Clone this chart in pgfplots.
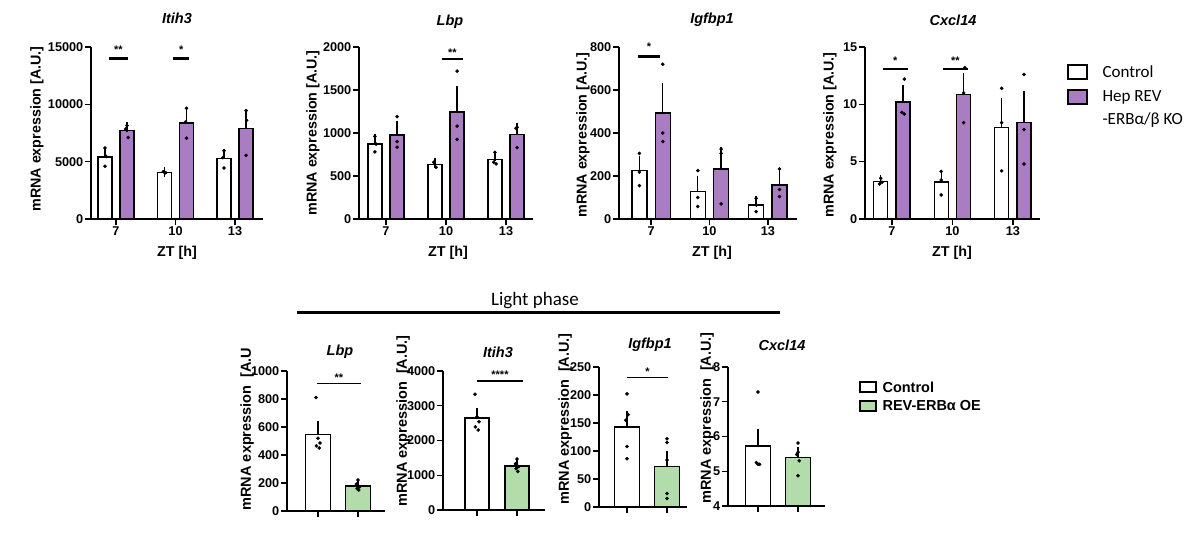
\documentclass[border=0pt]{standalone}
\usepackage{pgfplots}
\pgfplotsset{compat=1.18}
\usepackage{fontspec}
\setmainfont{Liberation Sans}
\newfontfamily\calfont{Carlito}
\definecolor{kopurple}{RGB}{170,125,195}
\definecolor{oegreen}{RGB}{178,220,170}
\pgfplotsset{
  gp/.style={scale only axis, axis x line*=bottom, axis y line*=left,
    axis line style={line width=1.6pt,-}, tick style={line width=1.4pt, black},
    major tick length=6pt, tick align=outside,
    tick label style={font=\fontsize{12.7}{14}\bfseries\selectfont, inner sep=1.5pt},
    /pgf/number format/assume math mode=true, /pgf/number format/1000 sep={},
    scaled y ticks=false, clip=false, anchor=south west},
  gpbar/.style={ybar, bar shift=0pt, draw=black, line width=1.4pt,
    error bars/y dir=plus, error bars/y explicit,
    error bars/error bar style={line width=1.4pt, black},
    error bars/error mark options={line width=1.4pt, mark size=5pt, black}},
  pts/.style={only marks, mark=*, mark size=1.6pt, black, mark options={fill=black}},
}
\newcommand{\labf}{\fontsize{14.3}{16}\bfseries\selectfont}
\newcommand{\titf}{\fontsize{14.5}{16}\bfseries\itshape\selectfont}
\newcommand{\astf}{\fontsize{11}{12}\bfseries\selectfont}
\begin{document}
\begin{tikzpicture}[x=1pt,y=1pt]
\fill[white] (0,0) rectangle (1200,545);
\path[use as bounding box] (0,0) rectangle (1200,545);

% ---------- Top panel 1: Itih3
\begin{axis}[gp, at={(91pt,326pt)}, width=172pt, height=172pt,
  xmin=-0.42, xmax=2.47, ymin=0, ymax=15000, ytick={0,5000,10000,15000},
  xtick={0,1,2}, xticklabels={7,10,13}]
\addplot[gpbar, bar width=14pt, fill=white] table[x=x,y=m,y error=e]{
x m e
-0.185 5417 450
0.815 4080 40
1.815 5250 450
};
\addplot[gpbar, bar width=14pt, fill=kopurple] table[x=x,y=m,y error=e]{
x m e
0.185 7700 330
1.185 8383 780
2.185 7867 1230
};
\addplot[pts] table{
-0.185 6200
-0.165 5450
-0.185 4600
0.185 8150
0.165 7850
0.205 7100
0.795 4130
0.815 4080
0.835 4030
1.185 9650
1.165 8450
1.185 7050
1.815 5950
1.795 5350
1.815 4450
2.185 9450
2.195 8600
2.185 5550
};
\draw[line width=2.5pt] (axis cs:-0.12,13980) -- (axis cs:0.2,13980);
\node[font=\astf] at (axis cs:0.04,14800) {**};
\draw[line width=2.5pt] (axis cs:0.96,13980) -- (axis cs:1.23,13980);
\node[font=\astf] at (axis cs:1.095,14800) {*};
\end{axis}

% ---------- Top panel 2: Lbp
\begin{axis}[gp, at={(359pt,326pt)}, width=174pt, height=172pt,
  xmin=-0.45, xmax=2.45, ymin=0, ymax=2000, ytick={0,500,1000,1500,2000},
  xtick={0,1,2}, xticklabels={7,10,13}]
\addplot[gpbar, bar width=14pt, fill=white] table[x=x,y=m,y error=e]{
x m e
-0.185 870 60
0.815 632 18
1.815 692 45
};
\addplot[gpbar, bar width=14pt, fill=kopurple] table[x=x,y=m,y error=e]{
x m e
0.185 975 110
1.185 1242 245
2.185 983 80
};
\addplot[pts] table{
-0.185 960
-0.165 870
-0.185 780
0.185 1190
0.185 900
0.185 835
0.795 660
0.815 635
0.835 600
1.185 1720
1.185 1080
1.185 925
1.815 775
1.795 660
1.835 640
2.185 1065
2.165 1055
2.185 830
};
\draw[line width=2pt] (axis cs:0.93,1857) -- (axis cs:1.28,1857);
\node[font=\astf] at (axis cs:1.105,1930) {**};
\end{axis}

% ---------- Top panel 3: Igfbp1
\begin{axis}[gp, at={(619pt,326pt)}, width=178pt, height=172pt,
  xmin=-0.55, xmax=2.5, ymin=0, ymax=800, ytick={0,200,400,600,800},
  xtick={0,1,2}, xticklabels={7,10,13}]
\addplot[gpbar, bar width=15pt, fill=white] table[x=x,y=m,y error=e]{
x m e
-0.2 226 45
0.8 128 50
1.8 65 20
};
\addplot[gpbar, bar width=15pt, fill=kopurple] table[x=x,y=m,y error=e]{
x m e
0.2 493 115
1.2 233 80
2.2 158 40
};
\addplot[pts] table{
-0.2 305
-0.2 218
-0.2 155
0.2 720
0.2 400
0.2 360
0.8 225
0.8 100
0.8 58
1.2 325
1.2 305
1.2 70
1.8 96
1.8 65
1.8 34
2.2 233
2.2 137
2.2 105
};
\draw[line width=2.5pt] (axis cs:-0.22,756) -- (axis cs:0.15,756);
\node[font=\astf] at (axis cs:-0.035,800) {*};
\end{axis}

% ---------- Top panel 4: Cxcl14
\begin{axis}[gp, at={(865pt,326pt)}, width=175pt, height=172pt,
  xmin=-0.446, xmax=2.45, ymin=0, ymax=15, ytick={0,5,10,15},
  xtick={0,1,2}, xticklabels={7,10,13}]
\addplot[gpbar, bar width=14pt, fill=white] table[x=x,y=m,y error=e]{
x m e
-0.185 3.27 0.15
0.815 3.22 0.6
1.815 8.0 2.1
};
\addplot[gpbar, bar width=14pt, fill=kopurple] table[x=x,y=m,y error=e]{
x m e
0.185 10.2 1.05
1.185 10.87 1.4
2.185 8.4 2.3
};
\addplot[pts] table{
-0.185 3.55
-0.165 3.2
-0.205 3.05
0.205 12.2
0.165 9.3
0.205 9.15
0.815 4.15
0.815 3.4
0.815 2.1
1.205 13.2
1.185 11.0
1.185 8.4
1.815 11.4
1.815 8.4
1.815 4.2
2.185 12.6
2.185 7.8
2.185 4.8
};
\draw[line width=2.5pt] (axis cs:-0.15,13.1) -- (axis cs:0.26,13.1);
\node[font=\astf] at (axis cs:0.055,13.8) {*};
\draw[line width=2.5pt] (axis cs:0.84,13.1) -- (axis cs:1.26,13.1);
\node[font=\astf] at (axis cs:1.05,13.8) {**};
\end{axis}

% ---------- Bottom panel 1: Lbp
\begin{axis}[gp, at={(287pt,34pt)}, width=98pt, height=140pt,
  xmin=-0.775, xmax=1.675, ymin=0, ymax=1000, ytick={0,200,400,600,800,1000},
  xtick={0,1}, xticklabels={\mbox{},\mbox{}}]
\addplot[gpbar, bar width=25pt, fill=white] table[x=x,y=m,y error=e]{
x m e
0 546 60
};
\addplot[gpbar, bar width=25pt, fill=oegreen] table[x=x,y=m,y error=e]{
x m e
1 179 12
};
\addplot[pts] table{
-0.05 810
0 520
0.05 485
-0.04 465
0.03 450
1 221
0.96 192
1.04 173
0.98 160
1.02 150
};
\draw[line width=1.6pt] (axis cs:-0.02,910) -- (axis cs:1.07,910);
\node[font=\astf] at (axis cs:0.52,950) {**};
\end{axis}

% ---------- Bottom panel 2: Itih3
\begin{axis}[gp, at={(443pt,35pt)}, width=102pt, height=139pt,
  xmin=-0.85, xmax=1.7, ymin=0, ymax=4000, ytick={0,1000,2000,3000,4000},
  xtick={0,1}, xticklabels={\mbox{},\mbox{}}]
\addplot[gpbar, bar width=24pt, fill=white] table[x=x,y=m,y error=e]{
x m e
0 2648 155
};
\addplot[gpbar, bar width=24pt, fill=oegreen] table[x=x,y=m,y error=e]{
x m e
1 1270 95
};
\addplot[pts] table{
-0.05 3330
0 2680
0.05 2540
-0.04 2390
0.03 2300
1 1470
0.96 1330
1.04 1250
0.98 1190
1.02 1110
};
\draw[line width=1.6pt] (axis cs:0,3713) -- (axis cs:1.15,3713);
\node[font=\astf] at (axis cs:0.575,3880) {****};
\end{axis}

% ---------- Bottom panel 3: Igfbp1
\begin{axis}[gp, at={(599pt,38pt)}, width=88pt, height=140pt,
  xmin=-0.7, xmax=1.5, ymin=0, ymax=250, ytick={0,50,100,150,200,250},
  xtick={0,1}, xticklabels={\mbox{},\mbox{}}]
\addplot[gpbar, bar width=25pt, fill=white] table[x=x,y=m,y error=e]{
x m e
0 143 20
};
\addplot[gpbar, bar width=25pt, fill=oegreen] table[x=x,y=m,y error=e]{
x m e
1 72 19.5
};
\addplot[pts] table{
0 202
0.03 165
-0.03 155
0 108
0 86
1 122
1 115
1 84
1 24
1 15
};
\draw[line width=1.6pt] (axis cs:0,231) -- (axis cs:1.02,231);
\node[font=\astf] at (axis cs:0.51,241) {*};
\end{axis}

% ---------- Bottom panel 4: Cxcl14
\begin{axis}[gp, clip=true, at={(728pt,39pt)}, width=97pt, height=139pt,
  xmin=-0.75, xmax=1.675, ymin=4, ymax=8, ytick={4,5,6,7,8},
  xtick={0,1}, xticklabels={\mbox{},\mbox{}}]
\addplot[gpbar, bar width=25pt, fill=white] table[x=x,y=m,y error=e]{
x m e
0 5.73 0.35
};
\addplot[gpbar, bar width=25pt, fill=oegreen] table[x=x,y=m,y error=e]{
x m e
1 5.40 0.14
};
\addplot[pts] table{
0 7.28
-0.04 5.25
0.04 5.2
0 5.2
1 5.81
1 5.55
0.97 5.48
1.03 5.3
1 4.87
};
\end{axis}

% ---------- Titles, labels (top)
\node[font=\titf] at (177,527) {Itih3};
\node[font=\titf] at (450,523) {Lbp};
\node[font=\titf] at (712,525) {Igfbp1};
\node[font=\titf] at (953,525) {Cxcl14};
\foreach \xx/\yy in {37/129, 313/133, 583/135, 830/135}
  \node[font=\labf, rotate=90] at (\xx,545-\yy) {mRNA expression [A.U.]};
\foreach \xx in {177, 448, 712, 952}
  \node[font=\labf] at (\xx,545-253) {ZT [h]};

% ---------- Legend (top)
\draw[line width=1.4pt, fill=white] (1068,545-79) rectangle (1087,545-65);
\draw[line width=1.4pt, fill=kopurple] (1068,545-104) rectangle (1087,545-90);
\node[font=\calfont\fontsize{17}{19}\selectfont, anchor=west] at (1099,545-72) {Control};
\node[font=\calfont\fontsize{17}{19}\selectfont, anchor=west] at (1099,545-97) {Hep REV};
\node[font=\calfont\fontsize{17}{19}\selectfont, anchor=west] at (1099,545-120) {-ERBα/β KO};

% ---------- Light phase
\node[font=\calfont\fontsize{19}{21}\selectfont] at (535,545-301) {Light phase};
\draw[line width=3pt] (297,545-313) -- (780,545-313);

% ---------- Titles, labels (bottom)
\node[font=\titf] at (340,545-352) {Lbp};
\node[font=\titf] at (498,545-352) {Itih3};
\node[font=\titf] at (650,545-345) {Igfbp1};
\node[font=\titf] at (782,545-345) {Cxcl14};
\node[font=\fontsize{14.5}{16}\bfseries\selectfont, rotate=90] at (247,545-429) {mRNA expression~~[A.U};
\foreach \xx/\yy in {403/421, 565/419, 707/418}
  \node[font=\fontsize{14.5}{16}\bfseries\selectfont, rotate=90] at (\xx,545-\yy) {mRNA expression~~[A.U.]};

% ---------- Legend (bottom)
\draw[line width=1.3pt, fill=white] (860,545-392) rectangle (876,545-382);
\draw[line width=1.3pt, fill=oegreen] (860,545-411) rectangle (876,545-401);
\node[font=\fontsize{14.5}{16}\bfseries\selectfont, anchor=west] at (879,545-387) {Control};
\node[font=\fontsize{14.5}{16}\bfseries\selectfont, anchor=west] at (879,545-406) {REV-ERBα OE};
\end{tikzpicture}
\end{document}
